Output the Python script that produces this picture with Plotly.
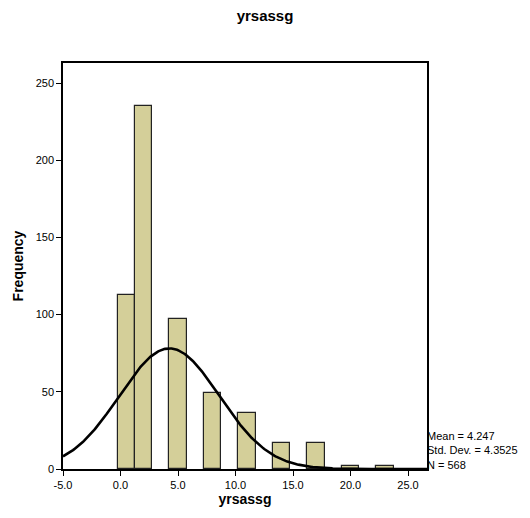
import numpy as np
import plotly.graph_objects as go

bin_centers = [0.5, 2.0, 5.0, 8.0, 11.0, 14.0, 17.0, 20.0, 23.0]
frequencies = [113, 235, 97, 49, 36, 17, 17, 2, 2]
bin_width = 1.5
mean_val = 4.247
std_val = 4.3525
n_val = 568
x_ticks = [-5, 0, 5, 10, 15, 20, 25]
y_ticks = [0, 50, 100, 150, 200, 250]

x_lo, x_hi = -5.0, 26.65
xs = np.linspace(x_lo, x_hi, 400)
ys = n_val * bin_width / (std_val * np.sqrt(2 * np.pi)) * np.exp(-0.5 * ((xs - mean_val) / std_val) ** 2)

fig = go.Figure()
fig.add_trace(go.Bar(
    x=bin_centers, y=frequencies, width=[bin_width] * len(bin_centers),
    marker=dict(color="#d4cf99", line=dict(color="#222222", width=1.2)),
    showlegend=False, hoverinfo="x+y",
))
fig.add_trace(go.Scatter(
    x=xs, y=ys, mode="lines", line=dict(color="black", width=2.6),
    showlegend=False, hoverinfo="skip",
))

fig.update_layout(
    width=530, height=518,
    margin=dict(l=63, r=103, t=63, b=49),
    paper_bgcolor="white", plot_bgcolor="white",
    font=dict(family="Arial, Liberation Sans, sans-serif", size=11, color="black"),
    title=dict(text="<b>yrsassg</b>", x=0.5, xanchor="center", y=0.97, yanchor="middle",
               font=dict(size=15, color="black")),
    bargap=0,
    xaxis=dict(
        range=[x_lo, x_hi], tickvals=x_ticks, ticktext=[f"{v:.1f}" for v in x_ticks],
        ticks="outside", ticklen=5, tickcolor="black", tickwidth=1,
        showgrid=False, zeroline=False,
        showline=True, linecolor="black", linewidth=1.5, mirror=True,
        title=dict(text="<b>yrsassg</b>", font=dict(size=14), standoff=4),
    ),
    yaxis=dict(
        range=[0, 263], tickvals=y_ticks,
        ticks="outside", ticklen=5, tickcolor="black", tickwidth=1,
        showgrid=False, zeroline=False,
        showline=True, linecolor="black", linewidth=1.5, mirror=True,
        title=dict(text="<b>Frequency</b>", font=dict(size=14), standoff=9),
    ),
)

fig.add_annotation(
    xref="paper", yref="paper", x=1.0, y=0.0, xanchor="left", yanchor="bottom",
    xshift=-2, yshift=-4,
    text=f"Mean = {mean_val}<br>Std. Dev. = {std_val}<br>N = {n_val}",
    showarrow=False, align="left", font=dict(size=11, color="black"),
)

fig.write_html("out.html")
